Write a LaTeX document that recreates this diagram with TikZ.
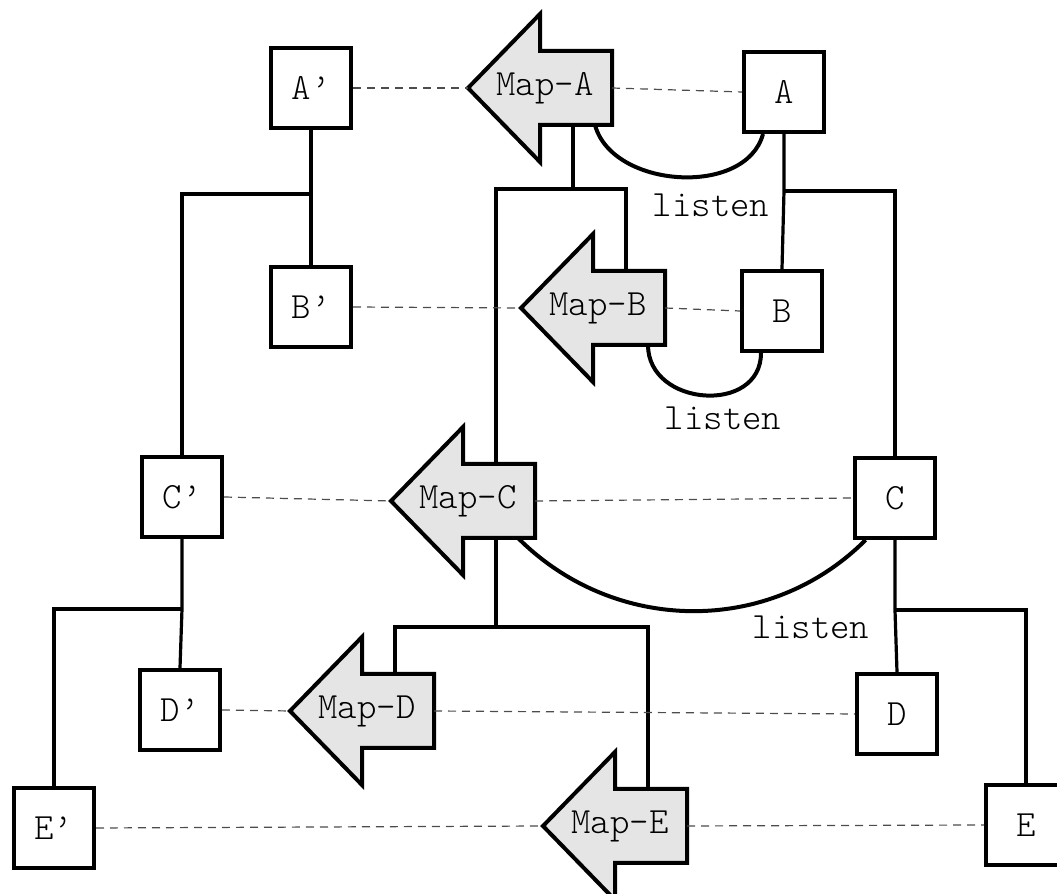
\documentclass[tikz,border=0pt]{standalone}
\usepackage{fontspec}
\setmonofont{Latin Modern Mono Light}
\usetikzlibrary{calc}
\begin{document}
\begin{tikzpicture}[x=0.5pt,y=0.5pt,font=\ttfamily\fontsize{18.5}{20}\selectfont]
    \tikzset{
        mbox/.style={draw,line width=2pt,minimum size=40pt,inner sep=0pt},
        tree/.style={line width=1.6pt},
        listen/.style={line width=2pt},
        link/.style={gray!60!black,line width=0.6pt,dash pattern=on 4pt off 3pt},
        pics/maparrow/.style={code={
            \draw[line width=2pt,fill=black!10] (0,0) -- (72,74) -- (72,37) -- (144,37)
                -- (144,-37) -- (72,-37) -- (72,-74) -- cycle;
            \coordinate (-tip) at (0,0);
            \coordinate (-end) at (144,0);
            \coordinate (-top) at (105,37);
            \coordinate (-bot) at (105,-37);
            \coordinate (-arc) at (127,-37);
            \node (-label) at (77,0) {#1};
        }}}
    \useasboundingbox (0,0) rectangle (1057,894);
    % mirrored side and original side
    \node[mbox] (Ap) at (311,806) {A’};
    \node[mbox] (A) at (784,802) {A};
    \node[mbox] (Bp) at (311,587) {B’};
    \node[mbox] (B) at (782,583) {B};
    \node[mbox] (Cp) at (182,397) {C’};
    \node[mbox] (C) at (895,396) {C};
    \node[mbox] (Dp) at (180,184) {D’};
    \node[mbox] (D) at (897,180) {D};
    \node[mbox] (Ep) at (54,66) {E’};
    \node[mbox] (E) at (1026,69) {E};
    % the maps
    \pic (mapA) at (468,806) {maparrow=Map-A};
    \pic (mapB) at (521,586) {maparrow=Map-B};
    \pic (mapC) at (391,393) {maparrow=Map-C};
    \pic (mapD) at (290,183) {maparrow=Map-D};
    \pic (mapE) at (543,68) {maparrow=Map-E};
    % trees
    \draw[tree] (Ap.south) -- ++(0,-64) coordinate (jAp) -- (Bp.north);
    \draw[tree] (jAp) -| (Cp.north);
    \draw[tree] (Cp.south) -- ++(0,-70) coordinate (jCp) -- (Dp.north);
    \draw[tree] (jCp) -| (Ep.north);
    \draw[tree] (A.south) -- ++(0,-57) coordinate (jA) -- (B.north);
    \draw[tree] (jA) -| (C.north);
    \draw[tree] (C.south) -- ++(0,-70) coordinate (jC) -- (D.north);
    \draw[tree] (jC) -| (E.north);
    \draw[tree] (mapA-bot) -- ++(0,-64) coordinate (jmA);
    \draw[tree] (mapB-top) |- (jmA) -| (mapC-top);
    \draw[tree] (mapC-bot) -- ++(0,-89) coordinate (jmC);
    \draw[tree] (mapD-top) |- (jmC) -| (mapE-top);
    % dashed links
    \foreach \n/\m in {Ap/A,Bp/B,Cp/C,Dp/D,Ep/E}{
        \draw[link] (\n.east) -- (map\m-tip);
        \draw[link] (map\m-end) -- (\m.west);
    }
    % listen
    \draw[listen] (mapA-arc) to[out=-75,in=-105] ($(A.south west)!0.25!(A.south east)$);
    \draw[listen] (mapB-arc) to[out=-90,in=-90,looseness=1.4] ($(B.south west)!0.25!(B.south east)$);
    \draw[listen] (mapC-arc) to[out=-45,in=-135] ($(C.south west)!0.15!(C.south east)$);
    \node (lsA) at (711,689) {listen};
    \node (lsB) at (723,476) {listen};
    \node (lsC) at (811,267) {listen};
\end{tikzpicture}
\end{document}
